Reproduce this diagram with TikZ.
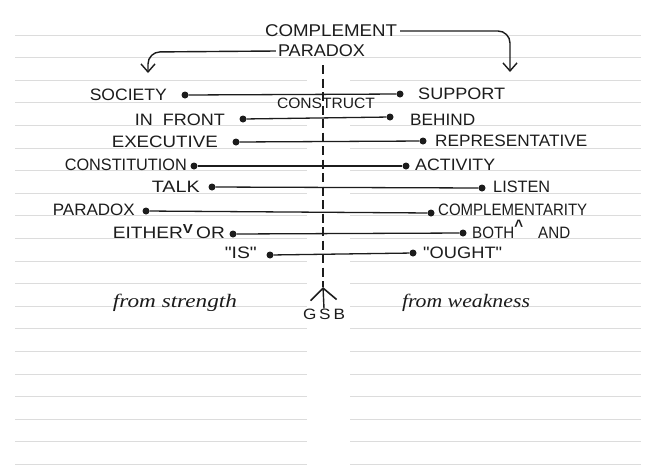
\documentclass[tikz,border=0pt]{standalone}
\usepackage{fontspec}
\usepackage{graphicx}
\setmainfont{Liberation Serif}
\newfontfamily\hand{Liberation Sans}
\usetikzlibrary{arrows.meta}
\definecolor{ink}{HTML}{1C1C1C}
\definecolor{rulegray}{HTML}{DCDCDC}
\newcommand\fw[2]{\resizebox{#1pt}{\height}{#2}}
\begin{document}
\begin{tikzpicture}[x=1pt,y=-1pt,
  lbl/.style={font=\hand\fontsize{16.5}{16.5}\selectfont, text=ink, inner sep=0pt},
  toplbl/.style={font=\hand\fontsize{17}{17}\selectfont, text=ink, inner sep=0pt},
  smalllbl/.style={font=\hand\fontsize{15}{15}\selectfont, text=ink, inner sep=0pt},
  scriptlbl/.style={font=\itshape\fontsize{19}{19}\selectfont, text=ink, inner sep=0pt},
  dot/.style={circle, fill=ink, inner sep=0pt, minimum size=7pt},
  conn/.style={draw=ink, line width=1.3pt},
  ruleline/.style={draw=rulegray, line width=0.9pt},
  axisline/.style={draw=ink, line width=1.4pt, dash pattern=on 9pt off 4.5pt},
  bendarrow/.style={draw=ink, line width=1.4pt, rounded corners=12pt,
    -{Straight Barb[length=8pt,width=14pt,line width=1.4pt]}},
  uparrow/.style={draw=ink, line width=1.4pt,
    -{Straight Barb[length=12pt,width=26pt,line width=1.6pt]}},
]
\useasboundingbox (0,0) rectangle (655,467);
\fill[white] (0,0) rectangle (655,467);
% ruled paper
\foreach \k in {0,1} {\draw[ruleline] (15,35+22.6*\k) -- (641,35+22.6*\k);}
\foreach \k in {2,...,19} {
  \draw[ruleline] (15,35+22.6*\k) -- (307,35+22.6*\k);
  \draw[ruleline] (350,35+22.6*\k) -- (641,35+22.6*\k);
}
% top labels and bent arrows
\node[toplbl] (complement) at (331,31) {\fw{132}{COMPLEMENT}};
\node[toplbl] (paradoxtop) at (321.5,51) {\fw{87}{PARADOX}};
\coordinate (rtip) at (510,72);
\coordinate (ltip) at (148,73);
\draw[bendarrow] ([xshift=3pt]complement.east) -- (510,31) -- (rtip);
\draw[bendarrow] ([xshift=-2pt]paradoxtop.west) -- (148,52) -- (ltip);
% central axis
\coordinate (atop) at (323,65);
\coordinate (apex) at (323,287);
\draw[axisline] (atop) -- (apex);
\node[smalllbl] (construct) at (326,103) {\fw{98}{CONSTRUCT}};
\node[smalllbl] (gsb) at (324,314) {\fw{42}{G\,S\,B}};
\draw[uparrow] (gsb.north) -- (apex);
% dots
\node[dot] (l1) at (185,95) {};  \node[dot] (r1) at (400,94) {};
\node[dot] (l2) at (243,119) {}; \node[dot] (r2) at (390,117) {};
\node[dot] (l3) at (236,142) {}; \node[dot] (r3) at (423,141) {};
\node[dot] (l4) at (194,166) {}; \node[dot] (r4) at (406,166) {};
\node[dot] (l5) at (212,187) {}; \node[dot] (r5) at (482,188) {};
\node[dot] (l6) at (146,211) {}; \node[dot] (r6) at (431,213) {};
\node[dot] (l7) at (233,234) {}; \node[dot] (r7) at (463,233) {};
\node[dot] (l8) at (270,255) {}; \node[dot] (r8) at (413,253) {};
% connectors
\foreach \i in {1,...,8} {\draw[conn] (l\i) -- (r\i);}
% left terms
\node[lbl, anchor=east] (t1) at (167,95) {\fw{77}{SOCIETY}};
\node[lbl, anchor=east] (t2) at (225,120) {\fw{90}{IN\ \ FRONT}};
\node[lbl, anchor=east] (t3) at (218,142) {\fw{106}{EXECUTIVE}};
\node[lbl, anchor=east] (t4) at (187,165) {\fw{122}{CONSTITUTION}};
\node[lbl, anchor=east] (t5) at (200,187) {\fw{48}{TALK}};
\node[lbl, anchor=east] (t6) at (135,210) {\fw{82}{PARADOX}};
\node[lbl, anchor=east] (t7) at (225,233) {\fw{112}{EITHER\smash{\raisebox{5pt}{\bfseries\fontsize{13}{13}\selectfont V}}\,OR}};
\node[lbl, anchor=east] (t8) at (257,253) {\fw{32}{"IS"}};
% right terms
\node[lbl, anchor=west] (s1) at (418,94) {\fw{87}{SUPPORT}};
\node[lbl, anchor=west] (s2) at (410,120) {\fw{65}{BEHIND}};
\node[lbl, anchor=west] (s3) at (435,141) {\fw{152}{REPRESENTATIVE}};
\node[lbl, anchor=west] (s4) at (415,165) {\fw{80}{ACTIVITY}};
\node[lbl, anchor=west] (s5) at (493,187) {\fw{57}{LISTEN}};
\node[lbl, anchor=west] (s6) at (438,210) {\fw{149}{COMPLEMENTARITY}};
\node[lbl, anchor=west] (s7) at (472,233) {\fw{98}{BOTH\smash{\raisebox{7pt}{\bfseries\textasciicircum}}\quad AND}};
\node[lbl, anchor=west] (s8) at (423,253) {\fw{79}{"OUGHT"}};
% bottom captions
\node[scriptlbl] (strength) at (175,303) {\fw{124}{from strength}};
\node[scriptlbl] (weakness) at (466,303) {\fw{128}{from weakness}};
\end{tikzpicture}
\end{document}
